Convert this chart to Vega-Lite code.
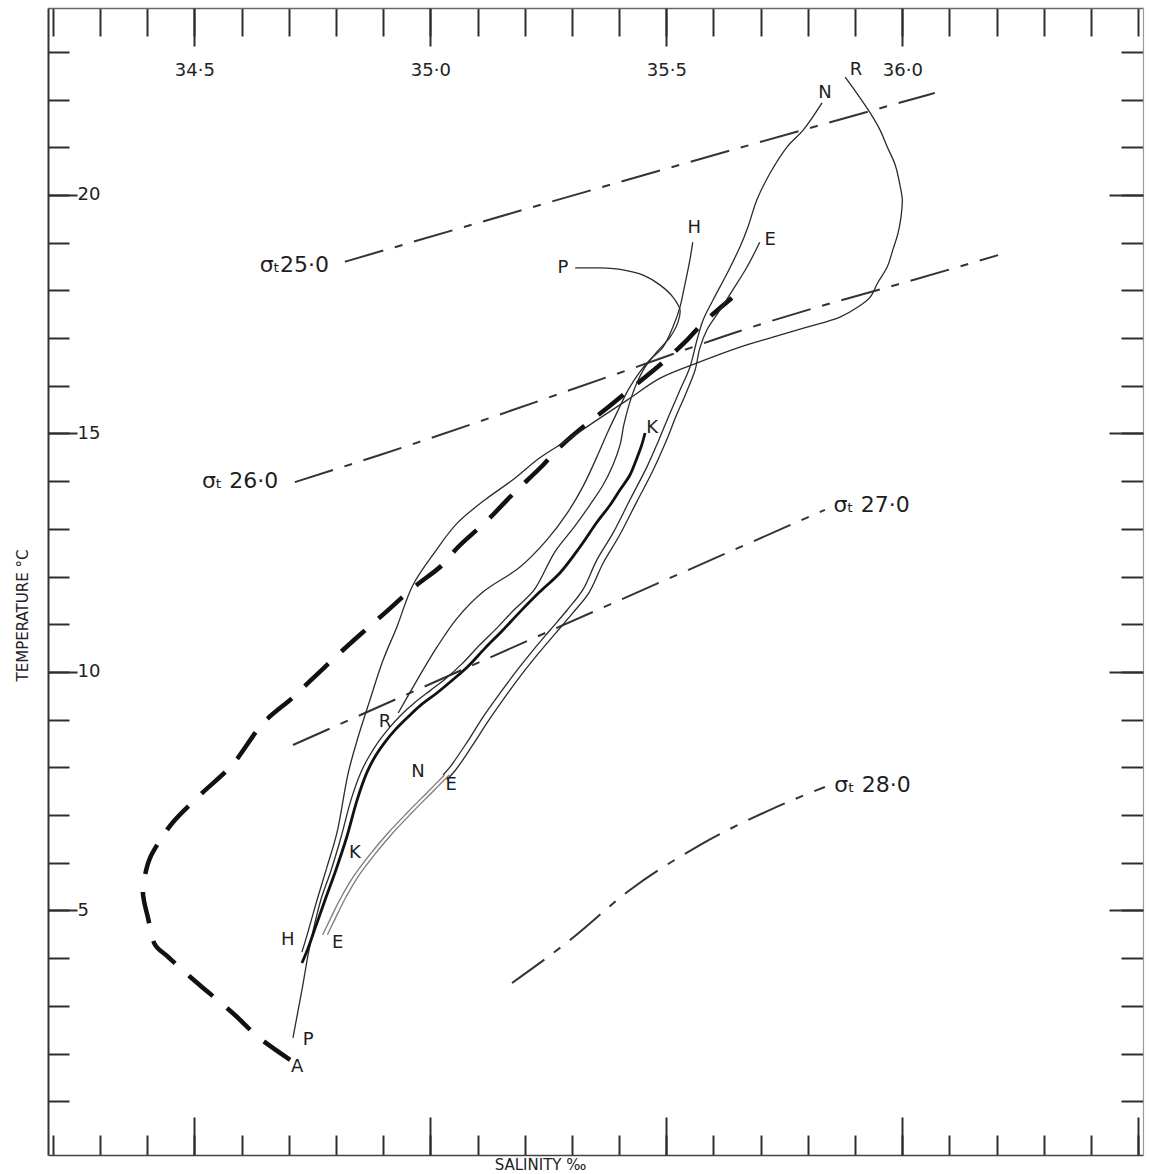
{
  "$schema": "https://vega.github.io/schema/vega-lite/v6.json",
  "width": 1095,
  "height": 1147,
  "autosize": {"type": "none"},
  "padding": {"left": 48, "top": 8, "right": 6, "bottom": 19},
  "background": "white",
  "config": {
    "view": {"stroke": null},
    "axis": {"grid": false, "domain": false, "tickColor": "#2e2e2e", "tickWidth": 2, "labelFont": "DejaVu Sans", "labelColor": "#222", "labelOverlap": false, "titleFont": "DejaVu Sans", "titleColor": "#222", "titleFontWeight": "normal"}
  },
  "datasets": {
    "sigma": [
      {"s": "25", "x": 34.819, "y": 18.60}, {"s": "25", "x": 35.232, "y": 19.79}, {"s": "25", "x": 35.656, "y": 20.99}, {"s": "25", "x": 36.069, "y": 22.14},
      {"s": "26", "x": 34.713, "y": 13.98}, {"s": "26", "x": 34.893, "y": 14.55}, {"s": "26", "x": 35.395, "y": 16.25}, {"s": "26", "x": 35.656, "y": 17.15}, {"s": "26", "x": 36.118, "y": 18.49}, {"s": "26", "x": 36.203, "y": 18.74},
      {"s": "27", "x": 34.709, "y": 8.47}, {"s": "27", "x": 35.258, "y": 10.88}, {"s": "27", "x": 35.836, "y": 13.40},
      {"s": "28", "x": 35.173, "y": 3.48}, {"s": "28", "x": 35.296, "y": 4.38}, {"s": "28", "x": 35.423, "y": 5.43}, {"s": "28", "x": 35.571, "y": 6.37}, {"s": "28", "x": 35.720, "y": 7.11}, {"s": "28", "x": 35.836, "y": 7.59}
    ],
    "acurve": [
      {"i": 0, "x": 34.703, "y": 1.87}, {"i": 1, "x": 34.635, "y": 2.35}, {"i": 2, "x": 34.586, "y": 2.81}, {"i": 3, "x": 34.529, "y": 3.29},
      {"i": 4, "x": 34.491, "y": 3.61}, {"i": 5, "x": 34.444, "y": 4.03}, {"i": 6, "x": 34.417, "y": 4.28}, {"i": 7, "x": 34.402, "y": 4.84},
      {"i": 8, "x": 34.391, "y": 5.39}, {"i": 9, "x": 34.398, "y": 5.85}, {"i": 10, "x": 34.406, "y": 6.10}, {"i": 11, "x": 34.421, "y": 6.37},
      {"i": 12, "x": 34.453, "y": 6.83}, {"i": 13, "x": 34.512, "y": 7.42}, {"i": 14, "x": 34.580, "y": 8.05}, {"i": 15, "x": 34.646, "y": 8.93},
      {"i": 16, "x": 34.707, "y": 9.45}, {"i": 17, "x": 34.741, "y": 9.77}, {"i": 18, "x": 34.804, "y": 10.36}, {"i": 19, "x": 34.851, "y": 10.78},
      {"i": 20, "x": 34.904, "y": 11.24}, {"i": 21, "x": 34.963, "y": 11.76}, {"i": 22, "x": 35.025, "y": 12.24}, {"i": 23, "x": 35.059, "y": 12.62},
      {"i": 24, "x": 35.122, "y": 13.19}, {"i": 25, "x": 35.173, "y": 13.71}, {"i": 26, "x": 35.239, "y": 14.34}, {"i": 27, "x": 35.275, "y": 14.72},
      {"i": 28, "x": 35.334, "y": 15.22}, {"i": 29, "x": 35.374, "y": 15.53}, {"i": 30, "x": 35.440, "y": 16.06}, {"i": 31, "x": 35.487, "y": 16.44},
      {"i": 32, "x": 35.540, "y": 16.92}, {"i": 33, "x": 35.578, "y": 17.32}, {"i": 34, "x": 35.639, "y": 17.84}
    ],
    "curves": [
      {"s": "R", "i": 0, "x": 35.879, "y": 22.47}, {"s": "R", "i": 1, "x": 35.906, "y": 22.10}, {"s": "R", "i": 2, "x": 35.932, "y": 21.72}, {"s": "R", "i": 3, "x": 35.953, "y": 21.36},
      {"s": "R", "i": 4, "x": 35.968, "y": 21.01}, {"s": "R", "i": 5, "x": 35.985, "y": 20.63}, {"s": "R", "i": 6, "x": 35.995, "y": 20.21}, {"s": "R", "i": 7, "x": 36.000, "y": 19.90},
      {"s": "R", "i": 8, "x": 35.997, "y": 19.52}, {"s": "R", "i": 9, "x": 35.991, "y": 19.20}, {"s": "R", "i": 10, "x": 35.980, "y": 18.85}, {"s": "R", "i": 11, "x": 35.968, "y": 18.49},
      {"s": "R", "i": 12, "x": 35.948, "y": 18.16}, {"s": "R", "i": 13, "x": 35.932, "y": 17.86}, {"s": "R", "i": 14, "x": 35.906, "y": 17.65}, {"s": "R", "i": 15, "x": 35.868, "y": 17.44},
      {"s": "R", "i": 16, "x": 35.798, "y": 17.23}, {"s": "R", "i": 17, "x": 35.726, "y": 17.02}, {"s": "R", "i": 18, "x": 35.656, "y": 16.81}, {"s": "R", "i": 19, "x": 35.571, "y": 16.50},
      {"s": "R", "i": 20, "x": 35.487, "y": 16.16}, {"s": "R", "i": 21, "x": 35.417, "y": 15.70}, {"s": "R", "i": 22, "x": 35.353, "y": 15.28}, {"s": "R", "i": 23, "x": 35.290, "y": 14.86},
      {"s": "R", "i": 24, "x": 35.232, "y": 14.49}, {"s": "R", "i": 25, "x": 35.175, "y": 14.03}, {"s": "R", "i": 26, "x": 35.116, "y": 13.61}, {"s": "R", "i": 27, "x": 35.057, "y": 13.12},
      {"s": "R", "i": 28, "x": 35.010, "y": 12.52}, {"s": "R", "i": 29, "x": 34.963, "y": 11.82}, {"s": "R", "i": 30, "x": 34.929, "y": 10.94}, {"s": "R", "i": 31, "x": 34.900, "y": 10.25},
      {"s": "R", "i": 32, "x": 34.872, "y": 9.41}, {"s": "R", "i": 33, "x": 34.845, "y": 8.57}, {"s": "R", "i": 34, "x": 34.826, "y": 7.88}, {"s": "R", "i": 35, "x": 34.802, "y": 6.62},
      {"s": "R", "i": 36, "x": 34.781, "y": 5.91}, {"s": "R", "i": 37, "x": 34.760, "y": 5.22}, {"s": "R", "i": 38, "x": 34.739, "y": 4.49}, {"s": "R", "i": 39, "x": 34.728, "y": 4.13},
      {"s": "H", "i": 0, "x": 35.556, "y": 19.01}, {"s": "H", "i": 1, "x": 35.550, "y": 18.64}, {"s": "H", "i": 2, "x": 35.537, "y": 18.01}, {"s": "H", "i": 3, "x": 35.529, "y": 17.65},
      {"s": "H", "i": 4, "x": 35.514, "y": 17.23}, {"s": "H", "i": 5, "x": 35.493, "y": 16.81}, {"s": "H", "i": 6, "x": 35.465, "y": 16.54}, {"s": "H", "i": 7, "x": 35.444, "y": 16.29},
      {"s": "H", "i": 8, "x": 35.419, "y": 15.91}, {"s": "H", "i": 9, "x": 35.398, "y": 15.49}, {"s": "H", "i": 10, "x": 35.376, "y": 15.03}, {"s": "H", "i": 11, "x": 35.353, "y": 14.51},
      {"s": "H", "i": 12, "x": 35.323, "y": 13.88}, {"s": "H", "i": 13, "x": 35.290, "y": 13.33}, {"s": "H", "i": 14, "x": 35.247, "y": 12.77}, {"s": "H", "i": 15, "x": 35.190, "y": 12.20},
      {"s": "H", "i": 16, "x": 35.112, "y": 11.68}, {"s": "H", "i": 17, "x": 35.057, "y": 11.13}, {"s": "H", "i": 18, "x": 35.014, "y": 10.52}, {"s": "H", "i": 19, "x": 34.972, "y": 9.83},
      {"s": "H", "i": 20, "x": 34.932, "y": 9.14},
      {"s": "P", "i": 0, "x": 35.307, "y": 18.47}, {"s": "P", "i": 1, "x": 35.359, "y": 18.47}, {"s": "P", "i": 2, "x": 35.408, "y": 18.43}, {"s": "P", "i": 3, "x": 35.451, "y": 18.32},
      {"s": "P", "i": 4, "x": 35.487, "y": 18.11}, {"s": "P", "i": 5, "x": 35.514, "y": 17.86}, {"s": "P", "i": 6, "x": 35.529, "y": 17.59}, {"s": "P", "i": 7, "x": 35.525, "y": 17.34},
      {"s": "P", "i": 8, "x": 35.508, "y": 17.02}, {"s": "P", "i": 9, "x": 35.480, "y": 16.71}, {"s": "P", "i": 10, "x": 35.455, "y": 16.39}, {"s": "P", "i": 11, "x": 35.436, "y": 16.02},
      {"s": "P", "i": 12, "x": 35.421, "y": 15.60}, {"s": "P", "i": 13, "x": 35.410, "y": 15.18}, {"s": "P", "i": 14, "x": 35.402, "y": 14.76}, {"s": "P", "i": 15, "x": 35.387, "y": 14.34},
      {"s": "P", "i": 16, "x": 35.366, "y": 13.92}, {"s": "P", "i": 17, "x": 35.338, "y": 13.50}, {"s": "P", "i": 18, "x": 35.305, "y": 13.04}, {"s": "P", "i": 19, "x": 35.264, "y": 12.52},
      {"s": "P", "i": 20, "x": 35.220, "y": 11.72}, {"s": "P", "i": 21, "x": 35.177, "y": 11.30}, {"s": "P", "i": 22, "x": 35.141, "y": 10.92}, {"s": "P", "i": 23, "x": 35.105, "y": 10.57},
      {"s": "P", "i": 24, "x": 35.067, "y": 10.17}, {"s": "P", "i": 25, "x": 35.031, "y": 9.85}, {"s": "P", "i": 26, "x": 35.001, "y": 9.62}, {"s": "P", "i": 27, "x": 34.966, "y": 9.35},
      {"s": "P", "i": 28, "x": 34.938, "y": 9.10}, {"s": "P", "i": 29, "x": 34.913, "y": 8.83}, {"s": "P", "i": 30, "x": 34.891, "y": 8.55}, {"s": "P", "i": 31, "x": 34.872, "y": 8.26},
      {"s": "P", "i": 32, "x": 34.853, "y": 7.90}, {"s": "P", "i": 33, "x": 34.832, "y": 7.32}, {"s": "P", "i": 34, "x": 34.811, "y": 6.54}, {"s": "P", "i": 35, "x": 34.790, "y": 5.85},
      {"s": "P", "i": 36, "x": 34.768, "y": 5.22}, {"s": "P", "i": 37, "x": 34.752, "y": 4.59}, {"s": "P", "i": 38, "x": 34.741, "y": 4.07}, {"s": "P", "i": 39, "x": 34.730, "y": 3.44},
      {"s": "P", "i": 40, "x": 34.720, "y": 2.91}, {"s": "P", "i": 41, "x": 34.709, "y": 2.33},
      {"s": "N", "i": 0, "x": 35.830, "y": 21.93}, {"s": "N", "i": 1, "x": 35.790, "y": 21.36}, {"s": "N", "i": 2, "x": 35.756, "y": 21.01}, {"s": "N", "i": 3, "x": 35.720, "y": 20.46},
      {"s": "N", "i": 4, "x": 35.692, "y": 19.90}, {"s": "N", "i": 5, "x": 35.673, "y": 19.33}, {"s": "N", "i": 6, "x": 35.656, "y": 18.91}, {"s": "N", "i": 7, "x": 35.629, "y": 18.36},
      {"s": "N", "i": 8, "x": 35.599, "y": 17.80}, {"s": "N", "i": 9, "x": 35.578, "y": 17.38}, {"s": "N", "i": 10, "x": 35.565, "y": 16.96}, {"s": "N", "i": 11, "x": 35.550, "y": 16.39},
      {"s": "N", "i": 12, "x": 35.529, "y": 15.91}, {"s": "N", "i": 13, "x": 35.508, "y": 15.43}, {"s": "N", "i": 14, "x": 35.484, "y": 14.86}, {"s": "N", "i": 15, "x": 35.459, "y": 14.30},
      {"s": "N", "i": 16, "x": 35.423, "y": 13.61}, {"s": "N", "i": 17, "x": 35.387, "y": 12.91}, {"s": "N", "i": 18, "x": 35.353, "y": 12.35}, {"s": "N", "i": 19, "x": 35.323, "y": 11.72},
      {"s": "N", "i": 20, "x": 35.290, "y": 11.30}, {"s": "N", "i": 21, "x": 35.254, "y": 10.88}, {"s": "N", "i": 22, "x": 35.218, "y": 10.46}, {"s": "N", "i": 23, "x": 35.184, "y": 10.04},
      {"s": "N", "i": 24, "x": 35.148, "y": 9.56}, {"s": "N", "i": 25, "x": 35.112, "y": 9.06}, {"s": "N", "i": 26, "x": 35.078, "y": 8.53}, {"s": "N", "i": 27, "x": 35.042, "y": 8.01},
      {"s": "N", "i": 28, "x": 35.027, "y": 7.84},
      {"s": "E", "i": 0, "x": 35.698, "y": 19.01}, {"s": "E", "i": 1, "x": 35.671, "y": 18.49}, {"s": "E", "i": 2, "x": 35.641, "y": 18.01}, {"s": "E", "i": 3, "x": 35.614, "y": 17.59},
      {"s": "E", "i": 4, "x": 35.586, "y": 17.17}, {"s": "E", "i": 5, "x": 35.571, "y": 16.79}, {"s": "E", "i": 6, "x": 35.561, "y": 16.33}, {"s": "E", "i": 7, "x": 35.542, "y": 15.85},
      {"s": "E", "i": 8, "x": 35.521, "y": 15.37}, {"s": "E", "i": 9, "x": 35.498, "y": 14.80}, {"s": "E", "i": 10, "x": 35.472, "y": 14.23}, {"s": "E", "i": 11, "x": 35.436, "y": 13.54},
      {"s": "E", "i": 12, "x": 35.400, "y": 12.85}, {"s": "E", "i": 13, "x": 35.366, "y": 12.28}, {"s": "E", "i": 14, "x": 35.336, "y": 11.66}, {"s": "E", "i": 15, "x": 35.302, "y": 11.24},
      {"s": "E", "i": 16, "x": 35.266, "y": 10.82}, {"s": "E", "i": 17, "x": 35.230, "y": 10.40}, {"s": "E", "i": 18, "x": 35.196, "y": 9.98}, {"s": "E", "i": 19, "x": 35.160, "y": 9.50},
      {"s": "E", "i": 20, "x": 35.124, "y": 8.99}, {"s": "E", "i": 21, "x": 35.090, "y": 8.47}, {"s": "E", "i": 22, "x": 35.054, "y": 7.95}, {"s": "E", "i": 23, "x": 35.035, "y": 7.74}
    ],
    "hatched": [
      {"s": "a", "i": 0, "x": 35.030, "y": 7.84}, {"s": "a", "i": 1, "x": 34.994, "y": 7.48}, {"s": "a", "i": 2, "x": 34.952, "y": 7.06}, {"s": "a", "i": 3, "x": 34.910, "y": 6.62},
      {"s": "a", "i": 4, "x": 34.871, "y": 6.16}, {"s": "a", "i": 5, "x": 34.835, "y": 5.68}, {"s": "a", "i": 6, "x": 34.808, "y": 5.22}, {"s": "a", "i": 7, "x": 34.789, "y": 4.84},
      {"s": "a", "i": 8, "x": 34.772, "y": 4.49},
      {"s": "b", "i": 0, "x": 35.040, "y": 7.84}, {"s": "b", "i": 1, "x": 35.004, "y": 7.48}, {"s": "b", "i": 2, "x": 34.962, "y": 7.06}, {"s": "b", "i": 3, "x": 34.920, "y": 6.62},
      {"s": "b", "i": 4, "x": 34.881, "y": 6.16}, {"s": "b", "i": 5, "x": 34.845, "y": 5.68}, {"s": "b", "i": 6, "x": 34.818, "y": 5.22}, {"s": "b", "i": 7, "x": 34.799, "y": 4.84},
      {"s": "b", "i": 8, "x": 34.782, "y": 4.49}
    ],
    "kcurve": [
      {"i": 0, "x": 35.455, "y": 15.01}, {"i": 1, "x": 35.448, "y": 14.76}, {"i": 2, "x": 35.438, "y": 14.49}, {"i": 3, "x": 35.423, "y": 14.13},
      {"i": 4, "x": 35.402, "y": 13.82}, {"i": 5, "x": 35.381, "y": 13.50}, {"i": 6, "x": 35.353, "y": 13.14}, {"i": 7, "x": 35.317, "y": 12.62},
      {"i": 8, "x": 35.275, "y": 12.08}, {"i": 9, "x": 35.232, "y": 11.68}, {"i": 10, "x": 35.190, "y": 11.26}, {"i": 11, "x": 35.154, "y": 10.88},
      {"i": 12, "x": 35.116, "y": 10.50}, {"i": 13, "x": 35.078, "y": 10.10}, {"i": 14, "x": 35.042, "y": 9.79}, {"i": 15, "x": 35.014, "y": 9.56},
      {"i": 16, "x": 34.978, "y": 9.29}, {"i": 17, "x": 34.951, "y": 9.04}, {"i": 18, "x": 34.925, "y": 8.78}, {"i": 19, "x": 34.904, "y": 8.53},
      {"i": 20, "x": 34.885, "y": 8.26}, {"i": 21, "x": 34.866, "y": 7.90}, {"i": 22, "x": 34.845, "y": 7.32}, {"i": 23, "x": 34.823, "y": 6.54},
      {"i": 24, "x": 34.800, "y": 5.85}, {"i": 25, "x": 34.777, "y": 5.22}, {"i": 26, "x": 34.756, "y": 4.63}, {"i": 27, "x": 34.741, "y": 4.21},
      {"i": 28, "x": 34.728, "y": 3.90}
    ],
    "letters": [
      {"t": "N", "x": 35.836, "y": 22.14}, {"t": "R", "x": 35.902, "y": 22.62}, {"t": "H", "x": 35.559, "y": 19.31}, {"t": "E", "x": 35.720, "y": 19.06},
      {"t": "P", "x": 35.281, "y": 18.47}, {"t": "K", "x": 35.470, "y": 15.11},
      {"t": "R", "x": 34.904, "y": 8.95}, {"t": "N", "x": 34.974, "y": 7.90}, {"t": "E", "x": 35.044, "y": 7.63}, {"t": "K", "x": 34.840, "y": 6.21},
      {"t": "H", "x": 34.698, "y": 4.38}, {"t": "E", "x": 34.804, "y": 4.32}, {"t": "P", "x": 34.741, "y": 2.29}, {"t": "A", "x": 34.718, "y": 1.72}
    ],
    "sigmalabels": [
      {"t": "σₜ25·0", "x": 34.712, "y": 18.53}, {"t": "σₜ 26·0", "x": 34.597, "y": 14.00}, {"t": "σₜ 27·0", "x": 35.935, "y": 13.50}, {"t": "σₜ 28·0", "x": 35.937, "y": 7.63}
    ]
  },
  "layer": [
    {
      "data": {"name": "sigma"},
      "mark": {"type": "line", "interpolate": "monotone", "color": "#333", "strokeWidth": 2, "strokeDash": [40, 12, 8, 12]},
      "encoding": {
        "x": {"field": "x", "type": "quantitative", "scale": {"domain": [34.19, 36.51], "nice": false, "zero": false},
              "axis": {"orient": "top", "values": [34.2,34.3,34.4,34.5,34.6,34.7,34.8,34.9,35,35.1,35.2,35.3,35.4,35.5,35.6,35.7,35.8,35.9,36,36.1,36.2,36.3,36.4,36.5], "tickSize": -28, "labels": false, "title": null, "domain": true, "domainColor": "#666", "domainWidth": 1.6}},
        "y": {"field": "y", "type": "quantitative", "scale": {"domain": [-0.126, 23.92], "nice": false, "zero": false},
              "axis": {"orient": "left", "values": [1,2,3,4,5,6,7,8,9,10,11,12,13,14,15,16,17,18,19,20,21,22,23], "tickSize": -21, "labels": false, "title": "TEMPERATURE °C", "titleX": -26, "titleY": 607, "titleAngle": -90, "titleAlign": "center", "titleBaseline": "middle", "titleFontSize": 15, "domain": true, "domainColor": "#333", "domainWidth": 2}},
        "detail": {"field": "s"}
      }
    },
    {
      "data": {"name": "acurve"},
      "mark": {"type": "line", "interpolate": "catmull-rom", "color": "#111", "strokeWidth": 4.5, "strokeDash": [32, 18]},
      "encoding": {
        "x": {"field": "x", "type": "quantitative", "scale": {"domain": [34.19, 36.51], "nice": false, "zero": false},
              "axis": {"orient": "top", "values": [34.5, 35, 35.5, 36], "tickSize": -38, "labelPadding": -24, "labelBaseline": "middle", "labelAlign": "center", "labelFontSize": 18, "labelExpr": "replace(format(datum.value, '.1f'), '.', '·')", "title": null}},
        "y": {"field": "y", "type": "quantitative", "scale": {"domain": [-0.126, 23.92], "nice": false, "zero": false},
              "axis": {"orient": "left", "values": [5, 10, 15, 20], "tickSize": -29, "labelPadding": 0, "labelAlign": "left", "labelBaseline": "middle", "labelFontSize": 18, "title": null}},
        "order": {"field": "i", "type": "quantitative"}
      }
    },
    {
      "data": {"name": "curves"},
      "mark": {"type": "line", "interpolate": "catmull-rom", "color": "#2b2b2b", "strokeWidth": 1.3},
      "encoding": {
        "x": {"field": "x", "type": "quantitative", "scale": {"domain": [34.19, 36.51], "nice": false, "zero": false},
              "axis": {"orient": "bottom", "values": [34.2,34.3,34.4,34.5,34.6,34.7,34.8,34.9,35,35.1,35.2,35.3,35.4,35.5,35.6,35.7,35.8,35.9,36,36.1,36.2,36.3,36.4,36.5], "tickSize": -20, "labels": false, "title": "SALINITY ‰", "titleX": 492, "titleY": 9, "titleAlign": "center", "titleBaseline": "middle", "titleFontSize": 15, "domain": true, "domainColor": "#444", "domainWidth": 1.6}},
        "y": {"field": "y", "type": "quantitative", "scale": {"domain": [-0.126, 23.92], "nice": false, "zero": false},
              "axis": {"orient": "right", "values": [1,2,3,4,5,6,7,8,9,10,11,12,13,14,15,16,17,18,19,20,21,22,23], "tickSize": -22, "labels": false, "title": null, "domain": true, "domainColor": "#999", "domainWidth": 1.2}},
        "detail": {"field": "s"},
        "order": {"field": "i", "type": "quantitative"}
      }
    },
    {
      "data": {"name": "hatched"},
      "mark": {"type": "line", "interpolate": "catmull-rom", "color": "#7a7a7a", "strokeWidth": 1.3},
      "encoding": {
        "x": {"field": "x", "type": "quantitative", "scale": {"domain": [34.19, 36.51], "nice": false, "zero": false},
              "axis": {"orient": "bottom", "values": [34.5, 35, 35.5, 36, 36.5], "tickSize": -38, "labels": false, "title": null}},
        "y": {"field": "y", "type": "quantitative", "scale": {"domain": [-0.126, 23.92], "nice": false, "zero": false},
              "axis": {"orient": "right", "values": [5, 10, 15, 20], "tickSize": -34, "labels": false, "title": null}},
        "detail": {"field": "s"},
        "order": {"field": "i", "type": "quantitative"}
      }
    },
    {
      "data": {"name": "kcurve"},
      "mark": {"type": "line", "interpolate": "catmull-rom", "color": "#111", "strokeWidth": 2.8},
      "encoding": {
        "x": {"field": "x", "type": "quantitative", "scale": {"domain": [34.19, 36.51], "nice": false, "zero": false}, "axis": null},
        "y": {"field": "y", "type": "quantitative", "scale": {"domain": [-0.126, 23.92], "nice": false, "zero": false}, "axis": null},
        "order": {"field": "i", "type": "quantitative"}
      }
    },
    {
      "data": {"name": "letters"},
      "mark": {"type": "text", "font": "DejaVu Sans", "fontSize": 18, "fill": "#1e1e1e", "align": "center", "baseline": "middle"},
      "encoding": {
        "x": {"field": "x", "type": "quantitative", "scale": {"domain": [34.19, 36.51], "nice": false, "zero": false}, "axis": null},
        "y": {"field": "y", "type": "quantitative", "scale": {"domain": [-0.126, 23.92], "nice": false, "zero": false}, "axis": null},
        "text": {"field": "t"}
      }
    },
    {
      "data": {"name": "sigmalabels"},
      "mark": {"type": "text", "font": "DejaVu Sans", "fontSize": 22, "fill": "#1e1e1e", "align": "center", "baseline": "middle"},
      "encoding": {
        "x": {"field": "x", "type": "quantitative", "scale": {"domain": [34.19, 36.51], "nice": false, "zero": false}, "axis": null},
        "y": {"field": "y", "type": "quantitative", "scale": {"domain": [-0.126, 23.92], "nice": false, "zero": false}, "axis": null},
        "text": {"field": "t"}
      }
    }
  ],
  "resolve": {"axis": {"x": "independent", "y": "independent"}}
}
